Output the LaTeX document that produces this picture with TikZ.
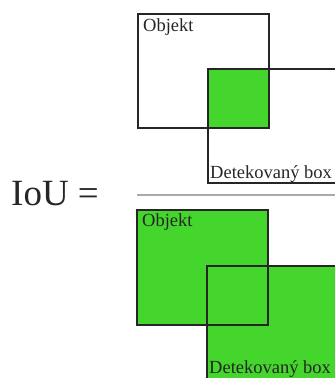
\documentclass[tikz,border=0pt]{standalone}
\usepackage{fontspec}
\setmainfont{Liberation Serif}
\definecolor{boxgreen}{RGB}{68,214,45}
\definecolor{rulegray}{RGB}{170,170,170}
\tikzset{
  frame/.style={draw=black!85, line width=1.8pt},
  lbl/.style={anchor=base west, inner sep=0pt, font=\fontsize{18.5}{19}\selectfont, text=black!85},
}
\begin{document}
\begin{tikzpicture}[x=1pt, y=-1pt]
\useasboundingbox (0,0) rectangle (335,378);
\clip (0,0) rectangle (335,378);
% numerator: union outlines with the intersection filled
\fill[boxgreen] (208,69) rectangle (269,128);
\draw[frame] (138,14) rectangle (269,128);
\draw[frame] (208,69) rectangle (350,183);
\node[lbl] (objA) at (143,31) {Objekt};
\node[lbl] (detA) at (210,178) {Detekovaný box};
% fraction rule
\draw[rulegray, line width=2pt] (137,195) -- (335,195);
% denominator: whole union filled
\fill[boxgreen] (137,210) rectangle (268,325);
\fill[boxgreen] (207,266) rectangle (350,400);
\draw[frame] (137,210) rectangle (268,325);
\draw[frame] (207,266) rectangle (350,400);
\node[lbl] (objB) at (142,226) {Objekt};
\node[lbl] (detB) at (209,373) {Detekovaný box};
% left-hand side
\node[anchor=base west, inner sep=0pt, font=\fontsize{37}{38}\selectfont, text=black!85] (iou) at (11,205) {IoU =};
\end{tikzpicture}
\end{document}
